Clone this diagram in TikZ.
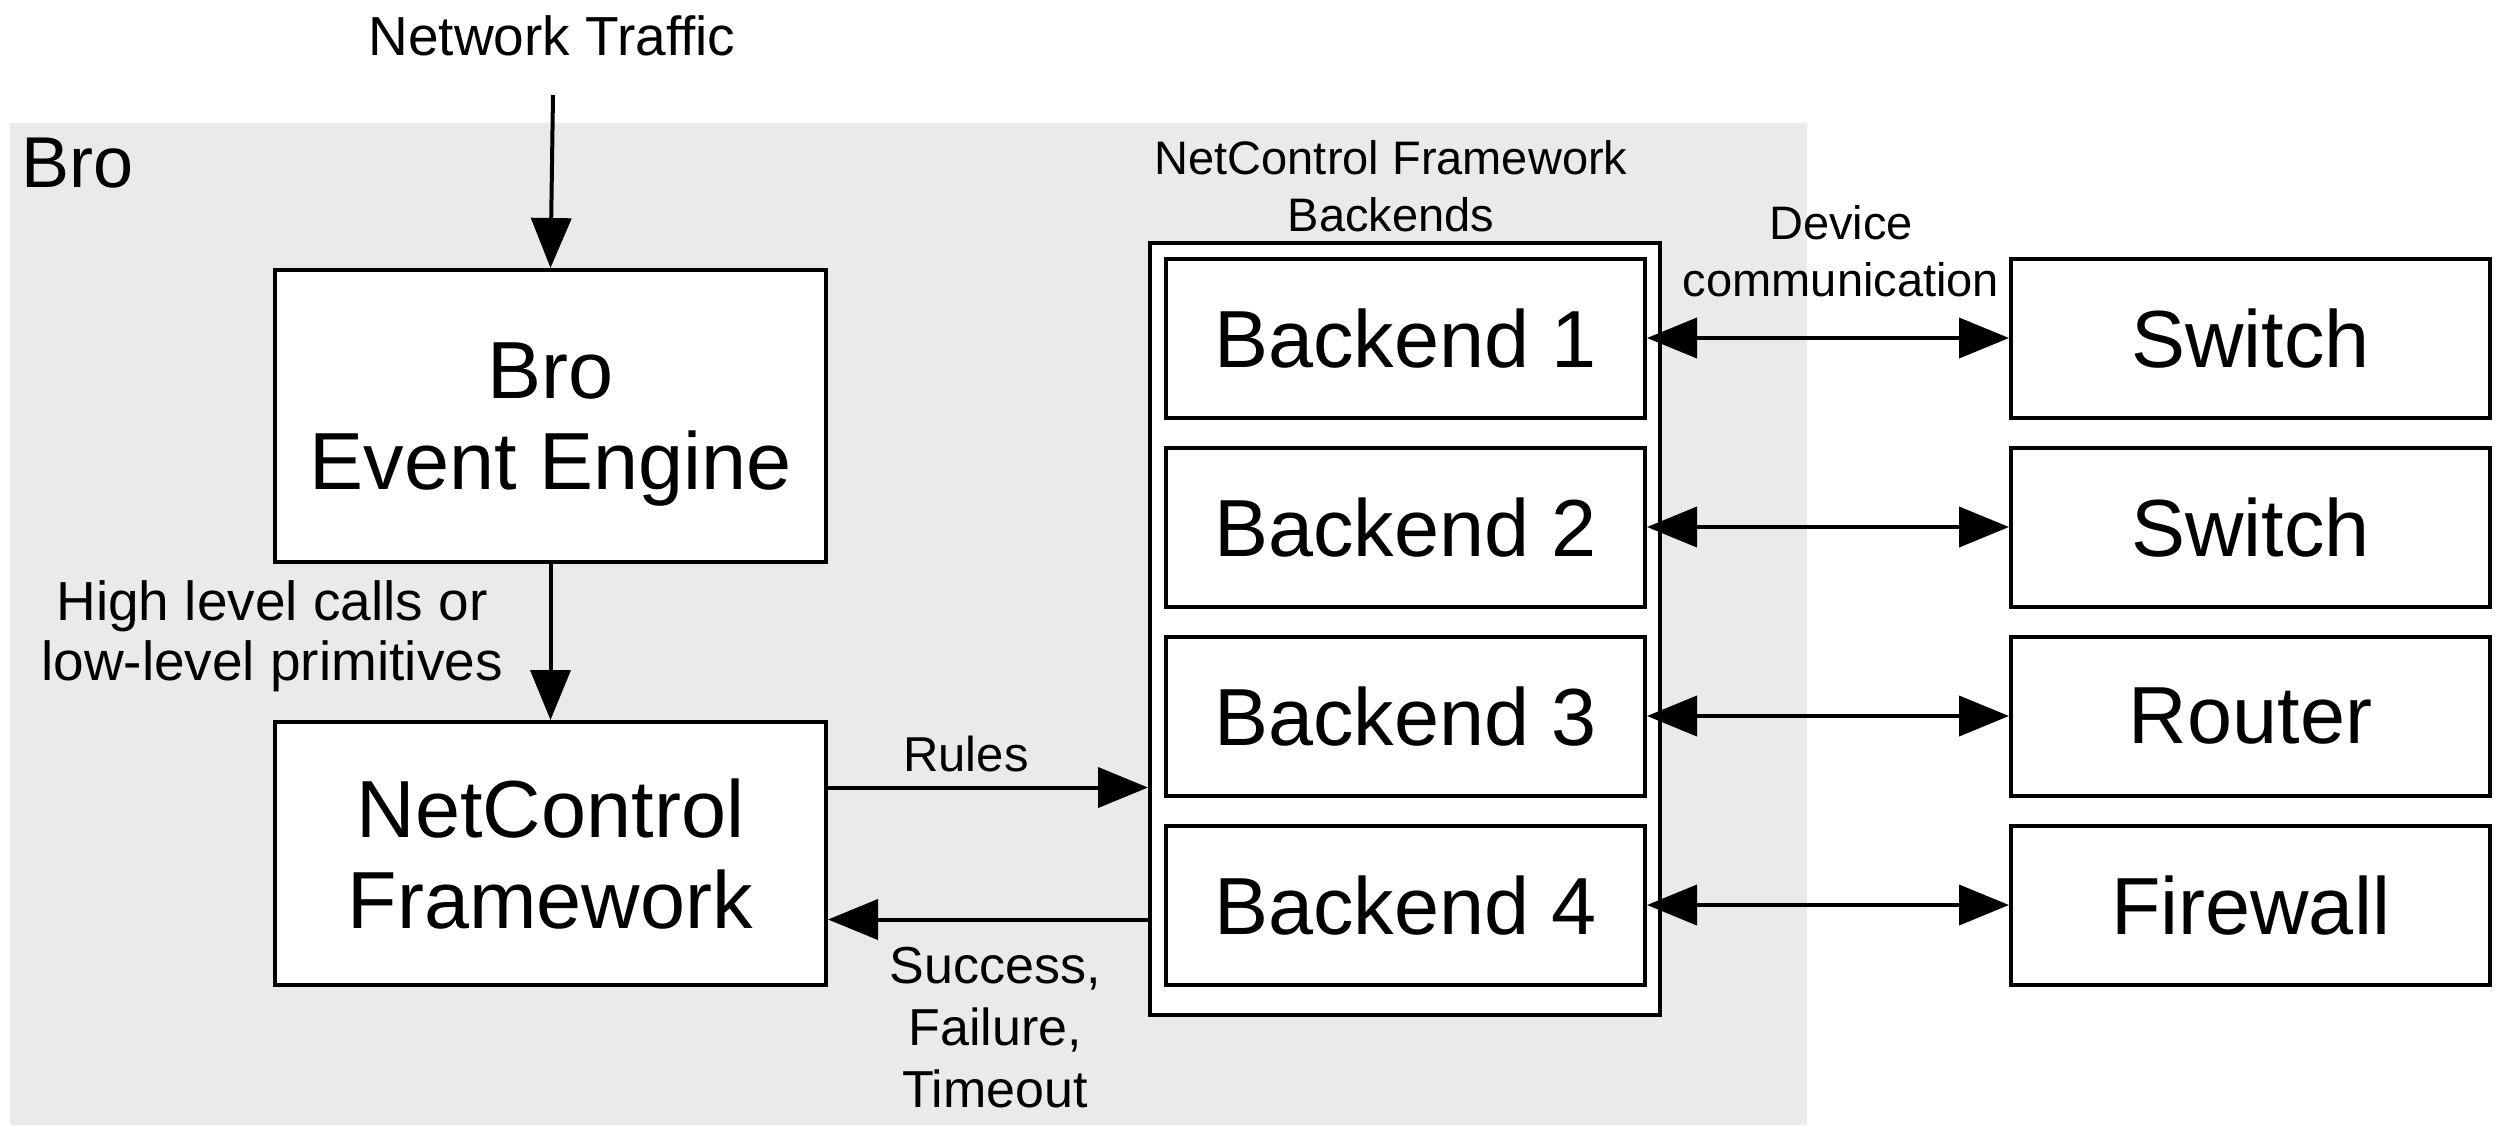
\documentclass[tikz,border=0pt]{standalone}
\usepackage{fontspec}
\setmainfont{Liberation Sans}
\usepackage{tikz}
\usetikzlibrary{positioning, calc, arrows.meta}

\definecolor{brogray}{HTML}{EAEAEA}

\begin{document}
\begin{tikzpicture}[
    x=0.5pt, y=-0.5pt,
    >={Triangle[length=25pt, width=20pt]},
    blk/.style={draw, line width=2pt, fill=white, align=center, inner sep=0pt, text depth=0pt},
    big/.style={blk, minimum width=275.5pt, font=\fontsize{40.5pt}{45.5pt}\selectfont},
    unit/.style={blk, minimum width=239.5pt, minimum height=79.5pt, font=\fontsize{40.5pt}{45.5pt}\selectfont},
    lbl/.style={align=center, inner sep=0pt, text depth=0pt},
    smalllbl/.style={lbl, font=\fontsize{23.5pt}{28.5pt}\selectfont},
    midlbl/.style={lbl, font=\fontsize{27.5pt}{30pt}\selectfont},
    flow/.style={->, line width=2pt},
    dflow/.style={<->, line width=2pt},
]
\useasboundingbox (0,0) rectangle (2509,1125);

% ─── Bro region ───
\fill[brogray] (10,123) rectangle (1807,1125);
\node[lbl, font=\fontsize{36pt}{40pt}\selectfont, anchor=base west] (brolbl) at (21,187) {Bro};

% ─── Input ───
\node[midlbl, anchor=base] (traffic) at (552,55) {Network Traffic};

% ─── Left column: engine and framework ───
\node[big, minimum height=146pt]   (engine) at (550.5,416)   {Bro\\Event Engine};
\node[big, minimum height=131.5pt] (ncf)    at (550.5,853.5) {NetControl\\Framework};
\node[midlbl, anchor=south] (calls) at (272,681) {High level calls or\\low-level primitives};

% ─── Backends (container + 4 units) ───
\node[blk, minimum width=255pt, minimum height=386pt] (backends) at (1405,629) {};
\node[smalllbl, anchor=south] (bklbl) at (1391,232) {NetControl Framework\\Backends};

\node[unit] (b1) at (1405.5,338) {Backend 1};
\node[unit] (b2) at (1405.5,527) {Backend 2};
\node[unit] (b3) at (1405.5,716) {Backend 3};
\node[unit] (b4) at (1405.5,905) {Backend 4};

% ─── Devices ───
\node[unit] (sw1)  at (2250.5,338) {Switch};
\node[unit] (sw2)  at (2250.5,527) {Switch};
\node[unit] (rtr)  at (2250.5,716) {Router};
\node[unit] (fwl)  at (2250.5,905) {Firewall};

% ─── Flows ───
\coordinate (inlet) at ($(engine.north)+(2.5,-173)$);
\draw[flow] (inlet) -- (engine.north);
\draw[flow] (engine.south) -- (ncf.north);

\coordinate (rulesOut) at ([yshift=33pt]ncf.east);
\coordinate (statusIn) at ([yshift=-33pt]ncf.east);
\draw[flow] (rulesOut) -- (rulesOut -| backends.west);
\draw[flow] (statusIn -| backends.west) -- (statusIn);
\node[smalllbl, anchor=base, font=\fontsize{24.5pt}{30pt}\selectfont] (rules) at (966,771) {Rules};
\node[smalllbl, anchor=north, font=\fontsize{26pt}{31pt}\selectfont] (status) at (995,947) {Success,\\Failure,\\Timeout};

% Device links
\draw[dflow] (b1.east) -- (sw1.west);
\draw[dflow] (b2.east) -- (sw2.west);
\draw[dflow] (b3.east) -- (rtr.west);
\draw[dflow] (b4.east) -- (fwl.west);
\node[smalllbl, anchor=south] (devlbl) at (1841,297) {Device\\communication};

\end{tikzpicture}
\end{document}
